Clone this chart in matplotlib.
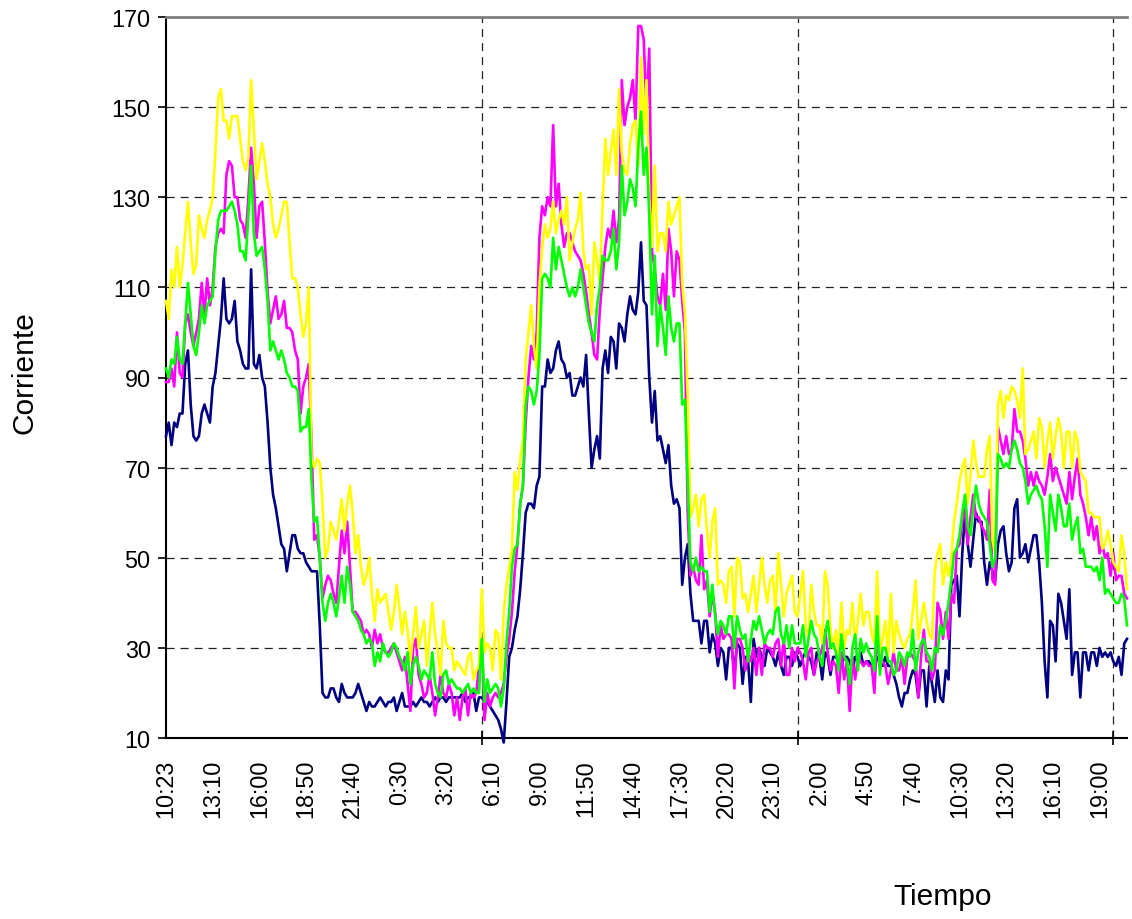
import matplotlib
matplotlib.use("Agg")
import matplotlib.pyplot as plt
import numpy as np

plt.rcParams["font.family"] = ["Liberation Sans", "DejaVu Sans"]
plt.rcParams["lines.scale_dashes"] = False

# Category labels shown every 17 samples (10-minute sampling)
tick_labels = ["10:23", "13:10", "16:00", "18:50", "21:40", "0:30", "3:20",
               "6:10", "9:00", "11:50", "14:40", "17:30", "20:20", "23:10",
               "2:00", "4:50", "7:40", "10:30", "13:20", "16:10", "19:00"]
label_step = 17
major_marks = [0, 115, 230, 345]

navy = [
    77, 80, 75, 80, 79, 82, 82, 93, 96, 84,
    77, 76, 77, 82, 84, 82, 80, 88, 91, 97,
    103, 112, 103, 102, 103, 107, 98, 96, 93, 92,
    92, 114, 93, 92, 95, 90, 88, 80, 70, 64,
    61, 57, 53, 52, 47, 51, 55, 55, 52, 51,
    51, 49, 48, 47, 47, 47, 35, 20, 19, 19,
    21, 21, 19, 18, 22, 20, 19, 19, 19, 20,
    22, 20, 18, 16, 18, 17, 17, 18, 19, 18,
    17, 18, 18, 19, 16, 18, 20, 17, 17, 17,
    18, 17, 18, 19, 18, 18, 17, 18, 19, 18,
    19, 19, 18, 19, 19, 19, 19, 19, 20, 18,
    19, 19, 20, 16, 19, 19, 18, 18, 17, 16,
    15, 14, 12, 9, 18, 28, 30, 34, 37, 43,
    51, 60, 62, 62, 61, 66, 68, 88, 88, 94,
    91, 92, 96, 98, 94, 93, 90, 91, 86, 86,
    88, 90, 88, 95, 82, 70, 74, 77, 72, 92,
    96, 91, 99, 98, 92, 102, 101, 98, 104, 108,
    105, 104, 109, 120, 107, 106, 90, 80, 87, 76,
    77, 74, 71, 75, 66, 62, 63, 61, 44, 50,
    53, 42, 36, 36, 36, 31, 36, 36, 29, 33,
    31, 26, 30, 29, 23, 30, 30, 25, 31, 30,
    22, 28, 27, 18, 32, 28, 30, 28, 26, 30,
    29, 28, 26, 29, 26, 24, 28, 28, 26, 29,
    28, 26, 28, 29, 28, 27, 24, 29, 28, 23,
    29, 28, 24, 28, 28, 27, 26, 28, 28, 27,
    25, 28, 28, 29, 26, 27, 27, 26, 25, 28,
    27, 26, 28, 26, 26, 24, 22, 19, 17, 20,
    20, 23, 25, 24, 19, 25, 25, 17, 26, 22,
    18, 25, 19, 18, 25, 23, 44, 45, 46, 37,
    51, 60, 53, 48, 54, 60, 58, 58, 49, 44,
    49, 47, 45, 53, 56, 57, 51, 47, 49, 61,
    63, 50, 51, 53, 49, 52, 55, 55, 49, 40,
    27, 19, 36, 35, 27, 42, 40, 36, 32, 43,
    24, 29, 29, 19, 29, 29, 25, 29, 29, 26,
    30, 28, 29, 28, 29, 27, 26, 28, 24, 31,
    32,
]

magenta = [
    89, 89, 92, 88, 100, 91, 90, 102, 104, 100,
    97, 100, 103, 111, 104, 112, 106, 110, 119, 122,
    123, 122, 135, 138, 137, 130, 130, 125, 124, 121,
    130, 141, 133, 121, 128, 129, 120, 109, 102, 105,
    108, 103, 104, 107, 101, 101, 100, 96, 94, 82,
    88, 90, 93, 76, 54, 55, 50, 41, 44, 46,
    45, 42, 40, 48, 56, 51, 58, 48, 38, 38,
    37, 36, 33, 34, 33, 30, 34, 31, 33, 30,
    29, 29, 30, 31, 29, 27, 25, 28, 22, 16,
    30, 32, 24, 22, 19, 20, 24, 20, 15, 19,
    24, 20, 19, 22, 20, 15, 19, 14, 19, 21,
    15, 20, 19, 20, 26, 32, 14, 20, 17, 19,
    20, 19, 20, 22, 28, 32, 38, 47, 53, 62,
    66, 80, 90, 97, 94, 100, 121, 128, 126, 130,
    128, 146, 128, 133, 124, 119, 122, 122, 120, 118,
    117, 116, 113, 109, 104, 100, 95, 94, 105, 112,
    119, 123, 121, 127, 120, 125, 156, 146, 150, 152,
    156, 147, 168, 168, 165, 149, 163, 118, 114, 108,
    106, 113, 105, 123, 118, 108, 118, 116, 107, 100,
    60, 46, 48, 45, 44, 55, 43, 45, 37, 42,
    38, 28, 35, 32, 33, 33, 32, 21, 32, 32,
    30, 25, 29, 27, 30, 24, 30, 24, 31, 30,
    30, 28, 31, 32, 26, 32, 24, 24, 30, 27,
    30, 29, 27, 23, 29, 30, 24, 27, 28, 30,
    34, 29, 25, 27, 26, 20, 29, 23, 27, 16,
    28, 23, 28, 27, 26, 27, 26, 26, 20, 33,
    27, 27, 26, 22, 25, 29, 25, 25, 28, 22,
    28, 29, 28, 27, 19, 28, 34, 27, 27, 23,
    25, 40, 38, 32, 38, 32, 42, 40, 52, 53,
    58, 61, 53, 59, 64, 59, 59, 57, 56, 54,
    65, 45, 44, 79, 76, 73, 77, 73, 74, 83,
    78, 78, 76, 72, 66, 69, 66, 69, 67, 66,
    64, 68, 73, 67, 70, 68, 66, 64, 62, 69,
    63, 68, 72, 64, 62, 59, 55, 59, 54, 57,
    51, 53, 50, 51, 46, 51, 45, 46, 46, 42,
    41,
]

yellow = [
    107, 103, 114, 110, 119, 110, 115, 122, 129, 120,
    113, 115, 126, 123, 121, 125, 127, 130, 140, 152,
    154, 147, 147, 143, 148, 148, 148, 143, 138, 136,
    139, 156, 145, 134, 138, 142, 138, 133, 130, 124,
    121, 123, 126, 129, 129, 120, 112, 112, 110, 104,
    99, 102, 110, 72, 70, 72, 71, 62, 50, 52,
    58, 56, 54, 58, 63, 56, 62, 66, 60, 51,
    55, 48, 44, 46, 50, 42, 36, 43, 40, 41,
    42, 38, 34, 38, 44, 39, 33, 38, 34, 27,
    33, 39, 30, 33, 36, 26, 33, 40, 33, 29,
    24, 36, 31, 30, 30, 25, 27, 26, 25, 24,
    28, 29, 23, 25, 26, 43, 29, 31, 30, 25,
    34, 33, 23, 38, 44, 48, 52, 69, 65, 72,
    76, 94, 100, 106, 97, 92, 110, 119, 124, 121,
    123, 129, 122, 125, 127, 124, 130, 116, 120, 123,
    125, 131, 118, 114, 115, 104, 120, 116, 111, 128,
    143, 135, 140, 145, 135, 154, 140, 136, 135, 142,
    146, 147, 137, 161, 144, 156, 130, 119, 137, 118,
    122, 122, 118, 129, 124, 126, 128, 130, 111, 104,
    86, 59, 61, 64, 57, 63, 64, 56, 50, 58,
    61, 44, 45, 44, 40, 47, 48, 37, 50, 49,
    41, 42, 38, 42, 46, 38, 44, 50, 44, 40,
    45, 46, 38, 51, 44, 37, 42, 44, 46, 38,
    37, 42, 47, 35, 32, 44, 38, 35, 35, 31,
    47, 44, 34, 30, 34, 28, 40, 30, 34, 33,
    40, 31, 36, 42, 35, 38, 38, 33, 31, 47,
    29, 32, 36, 28, 42, 29, 36, 33, 31, 30,
    32, 33, 38, 45, 32, 36, 40, 36, 33, 32,
    47, 51, 53, 44, 49, 46, 50, 58, 62, 67,
    70, 72, 62, 68, 76, 71, 68, 68, 68, 74,
    77, 54, 51, 84, 87, 81, 86, 85, 88, 87,
    85, 81, 92, 73, 74, 76, 78, 72, 81, 79,
    70, 76, 80, 72, 77, 81, 78, 70, 78, 78,
    70, 78, 76, 69, 68, 67, 60, 60, 59, 59,
    59, 52, 53, 56, 53, 49, 48, 47, 55, 51,
    43,
]

green = [
    92, 90, 94, 93, 99, 94, 93, 102, 111, 104,
    97, 95, 100, 106, 102, 106, 107, 108, 118, 125,
    127, 127, 127, 128, 129, 127, 124, 118, 118, 116,
    126, 137, 122, 117, 118, 119, 114, 107, 96, 98,
    96, 94, 96, 94, 91, 90, 88, 88, 87, 78,
    79, 79, 83, 67, 58, 59, 50, 40, 36, 40,
    42, 40, 37, 41, 46, 40, 48, 44, 38, 37,
    36, 34, 33, 31, 32, 31, 26, 29, 27, 31,
    29, 28, 29, 31, 30, 28, 27, 25, 29, 22,
    26, 28, 26, 23, 25, 24, 23, 29, 22, 20,
    19, 24, 25, 22, 23, 22, 21, 21, 20, 21,
    22, 20, 21, 20, 20, 32, 18, 23, 20, 21,
    22, 21, 17, 21, 31, 38, 48, 52, 53, 62,
    66, 84, 88, 87, 84, 87, 95, 112, 113, 112,
    110, 121, 114, 119, 116, 113, 110, 108, 110, 108,
    110, 114, 110, 106, 102, 100, 98, 106, 110, 117,
    116, 116, 118, 123, 114, 120, 137, 126, 129, 134,
    132, 128, 141, 149, 135, 141, 126, 104, 117, 97,
    106, 101, 95, 108, 101, 98, 102, 102, 84, 85,
    67, 49, 47, 50, 47, 48, 47, 47, 38, 44,
    37, 33, 36, 35, 33, 37, 37, 30, 37, 34,
    32, 33, 27, 32, 36, 34, 37, 34, 31, 33,
    34, 33, 38, 39, 33, 31, 35, 30, 35, 31,
    31, 31, 35, 28, 32, 36, 33, 32, 28, 26,
    33, 36, 30, 31, 29, 25, 33, 28, 27, 22,
    30, 33, 25, 32, 29, 31, 29, 28, 25, 37,
    24, 30, 30, 27, 27, 24, 25, 29, 28, 26,
    29, 28, 34, 25, 29, 31, 32, 29, 28, 25,
    30, 29, 35, 33, 36, 40, 45, 51, 52, 55,
    60, 64, 57, 55, 61, 66, 62, 60, 59, 58,
    53, 48, 50, 73, 72, 70, 71, 70, 74, 76,
    74, 71, 70, 67, 62, 64, 65, 66, 64, 63,
    57, 48, 64, 60, 56, 64, 61, 57, 57, 62,
    54, 57, 59, 51, 52, 48, 48, 48, 47, 48,
    45, 50, 42, 43, 42, 41, 40, 40, 42, 41,
    35,
]

W, H = 1132, 920
fig = plt.figure(figsize=(W / 100, H / 100), dpi=100)
ax = fig.add_axes([166 / W, 1 - 739 / H, (1127 - 166) / W, (739 - 18) / H])

x = np.arange(len(navy))
series = [(navy, "#000080"), (magenta, "#FF00FF"),
          (yellow, "#FFFF00"), (green, "#00FF00")]
for vals, col in series:
    ax.plot(x, vals, color=col, lw=1.9, solid_joinstyle="round",
            clip_on=False, zorder=3)

ax.set_xlim(0, len(navy) - 1)
ax.set_ylim(10, 170)

dash = (0, (5.8, 4.3))
ax.set_axisbelow(True)
ax.set_yticks(np.arange(10, 171, 20))
ax.yaxis.grid(True, linestyle=dash, color="#222222", lw=0.9)

ax.set_xticks(np.arange(len(tick_labels)) * label_step)
ax.set_xticklabels(tick_labels, rotation=90, va="top", ha="center")
ax.set_xticks(major_marks, minor=True)
ax.xaxis.grid(True, which="minor", linestyle=dash, color="#222222", lw=0.9)
ax.tick_params(axis="x", which="major", length=0, pad=15, labelsize=16.8)
ax.tick_params(axis="x", which="minor", length=10, direction="inout",
               width=1.2, color="black")
ax.tick_params(axis="y", length=6, direction="out", width=1.2, pad=5,
               labelsize=16.8)

for side in ("left", "bottom"):
    ax.spines[side].set_color("black")
    ax.spines[side].set_linewidth(1.5)
ax.spines["top"].set_color("#808080")
ax.spines["top"].set_linewidth(2.0)
ax.spines["right"].set_visible(False)

fig.text(25 / W, 1 - 373 / H, "Corriente", rotation=90, ha="center",
         va="center", fontsize=21.5)
fig.text(943 / W, 1 - 897 / H, "Tiempo", ha="center", va="center",
         fontsize=21.5)

fig.savefig("out.png", dpi=100)
